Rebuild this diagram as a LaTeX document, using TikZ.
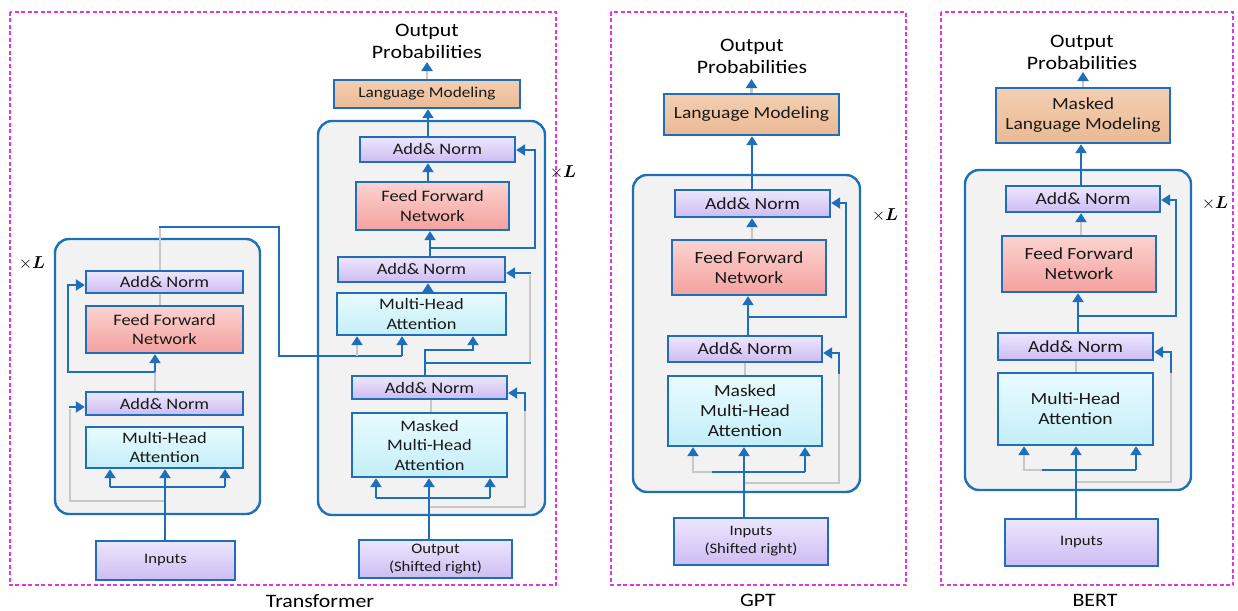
\documentclass[tikz,border=0pt]{standalone}
\usepackage{fontspec}
\usepackage{amsmath}
\setmainfont{Carlito}[FakeStretch=1.15]
\usetikzlibrary{arrows.meta}
\definecolor{bblue}{RGB}{30,110,185}
\definecolor{lavT}{RGB}{238,230,253}
\definecolor{lavB}{RGB}{205,188,242}
\definecolor{pinkT}{RGB}{251,211,208}
\definecolor{pinkB}{RGB}{244,161,158}
\definecolor{cyanT}{RGB}{232,251,254}
\definecolor{cyanB}{RGB}{196,238,248}
\definecolor{oraT}{RGB}{243,207,177}
\definecolor{oraB}{RGB}{235,185,148}
\definecolor{panelg}{RGB}{242,242,242}
\definecolor{greyl}{RGB}{200,200,200}
\definecolor{magf}{RGB}{230,50,230}
\begin{document}
\begin{tikzpicture}[x=1pt,y=-1pt,
  blk/.style={draw=bblue, line width=2.4pt, inner sep=0pt, align=center, text=black!90, font=\fontsize{16}{19.5}\selectfont},
  big/.style={font=\fontsize{17}{20}\selectfont},
  anorm/.style={blk, top color=lavT, bottom color=lavB},
  ffn/.style={blk, top color=pinkT, bottom color=pinkB},
  mha/.style={blk, top color=cyanT, bottom color=cyanB},
  lmb/.style={blk, top color=oraT, bottom color=oraB},
  inb/.style={blk, top color=lavT, bottom color=lavB, font=\fontsize{14.5}{18}\selectfont},
  stack/.style={draw=bblue, line width=2.4pt, fill=panelg, rounded corners=14pt, inner sep=0pt},
  frame/.style={draw=magf, line width=2.4pt, dash pattern=on 4pt off 2.5pt},
  arr/.style={draw=bblue, line width=2.6pt, -{Triangle[length=9pt,width=11pt]}},
  ln/.style={draw=bblue, line width=2.6pt},
  gln/.style={draw=greyl, line width=2.2pt},
  garr/.style={draw=greyl, line width=2.2pt, -{Triangle[length=9pt,width=11pt,color=bblue]}},
  lbl/.style={font=\fontsize{19}{22}\selectfont, align=center, inner sep=0pt},
  mult/.style={font=\fontsize{16}{18}\selectfont, inner sep=0pt}]
\useasboundingbox (0,0) rectangle (1238,610);

% ================= Transformer =================
\draw[frame] (10,12) rectangle (556,585);
\node[lbl] (tlab) at (320,601) {Transformer};

% Encoder
\node[stack, minimum width=205, minimum height=275] (est) at (157.5,376.5) {};
\node[mult] (exl) at (32,263) {$\times\boldsymbol{L}$};
\node[anorm, minimum width=157, minimum height=22] (ean1) at (164.5,282) {Add\& Norm};
\node[ffn, minimum width=157, minimum height=47] (effn) at (164.5,329.5) {Feed Forward\\Network};
\node[anorm, minimum width=157, minimum height=23] (ean2) at (164.5,403.5) {Add\& Norm};
\node[mha, minimum width=157, minimum height=41] (emha) at (164.5,447.5) {Multi-Head\\Attention};
\node[inb, minimum width=139, minimum height=39] (einp) at (165.5,560.5) {Inputs};

% Decoder
\node[stack, minimum width=227, minimum height=394] (dst) at (431.5,318) {};
\node[mult] (dxl) at (563,172) {$\times\boldsymbol{L}$};
\node[lbl] (dop) at (427,41) {Output\\Probabilities};
\coordinate (dout) at (427,62);
\node[lmb, font=\fontsize{15}{18}\selectfont, minimum width=186, minimum height=28] (dlm) at (427,94) {Language Modeling};
\node[anorm, minimum width=155, minimum height=25] (dan1) at (437.5,149.5) {Add\& Norm};
\node[ffn, minimum width=153, minimum height=48] (dffn) at (432.5,206) {Feed Forward\\Network};
\node[anorm, minimum width=167, minimum height=25] (dan2) at (421.5,269.5) {Add\& Norm};
\node[mha, minimum width=169, minimum height=42] (dmha) at (421.5,314) {Multi-Head\\Attention};
\node[anorm, minimum width=155, minimum height=23] (dman) at (429.5,387.5) {Add\& Norm};
\node[mha, minimum width=155, minimum height=64] (dmmha) at (429.5,445) {Masked\\Multi-Head\\Attention};
\node[inb, minimum width=153, minimum height=38] (dinp) at (435.5,559) {Output\\(Shifted right)};

% encoder connectors
\draw[gln] (165,501) -- (70,501) -- (70,409);
\draw[arr] (69,407) -- (ean2.west |- 0,407);
\draw[gln] (ean2.north -| 155,0) -- (155,372);
\draw[arr] (155,372) -- (effn.south -| 155,0);
\draw[arr] (155,372) -- (68,372) -- (68,285) -- (ean1.west |- 0,285);
\draw[gln] (effn.north -| 160,0) -- (ean1.south -| 160,0);
\draw[gln] (ean1.north -| 160,0) -- (160,227);
\draw[arr] (einp.north -| 165,0) -- (emha.south -| 165,0);
\draw[ln] (110,487) -- (225,487);
\draw[arr] (110,487) -- (emha.south -| 110,0);
\draw[arr] (225,487) -- (emha.south -| 225,0);
\draw[ln] (159,227) -- (279,227) -- (279,356) -- (402,356);
\draw[arr] (402,356) -- (dmha.south -| 402,0);
\draw[garr] (357,356) -- (dmha.south -| 357,0);

% decoder connectors
\draw[garr] (dlm.north) -- (dout);
\draw[arr] (dan1.north -| 428,0) -- (dlm.south -| 428,0);
\draw[arr] (dffn.north -| 428,0) -- (dan1.south -| 428,0);
\draw[arr] (dan2.north -| 430,0) -- (dffn.south -| 430,0);
\draw[arr] (430,248) -- (535,248) -- (535,150) -- (dan1.east |- 0,150);
\draw[arr] (dmha.north -| 428,0) -- (dan2.south -| 428,0);
\draw[gln] (dmmha.north -| 431,0) -- (dman.south -| 431,0);
\draw[gln] (429,507) -- (525,507) -- (525,410);
\draw[gln] (530,363) -- (530,275);
\draw[ln] (425,363) -- (531,363);
\draw[arr] (531,273) -- (dan2.east |- 0,273);
\draw[arr] (dman.north -| 425,0) -- (425,350) -- (473,350) -- (dmha.south -| 473,0);
\draw[arr] (525,411) -- (525,393) -- (dman.east |- 0,393);
\draw[arr] (dinp.north -| 429,0) -- (dmmha.south -| 429,0);
\draw[ln] (376,498) -- (490,498);
\draw[arr] (376,498) -- (dmmha.south -| 376,0);
\draw[arr] (490,498) -- (dmmha.south -| 490,0);

% ================= GPT =================
\draw[frame] (611,12) rectangle (906,585);
\node[lbl] (glab) at (758,600) {GPT};
\node[lbl] (gop) at (752,56) {Output\\Probabilities};
\coordinate (gout) at (751.5,79);
\node[lmb, big, minimum width=175, minimum height=41] (glm) at (751.5,114.5) {Language Modeling};
\node[stack, minimum width=227, minimum height=317] (gst) at (746.5,333.5) {};
\node[mult] (gxl) at (885,215) {$\times\boldsymbol{L}$};
\node[anorm, big, minimum width=155, minimum height=27] (gan1) at (752.5,203.5) {Add\& Norm};
\node[ffn, big, minimum width=154, minimum height=55] (gffn) at (749,267.5) {Feed Forward\\Network};
\node[anorm, big, minimum width=154, minimum height=26] (gan2) at (745,349) {Add\& Norm};
\node[mha, big, minimum width=154, minimum height=70] (gmmha) at (745,411) {Masked\\Multi-Head\\Attention};
\node[inb, minimum width=154, minimum height=47] (ginp) at (751,541.5) {Inputs\\(Shifted right)};

\draw[garr] (glm.north) -- (gout);
\draw[arr] (gan1.north -| 752,0) -- (glm.south -| 752,0);
\draw[garr] (gffn.north -| 752,0) -- (gan1.south -| 752,0);
\draw[arr] (gan2.north -| 748,0) -- (gffn.south -| 748,0);
\draw[arr] (748,317) -- (846,317) -- (846,203) -- (gan1.east |- 0,203);
\draw[gln] (gmmha.north -| 745,0) -- (gan2.south -| 745,0);
\draw[gln] (744,483) -- (839,483) -- (839,373);
\draw[arr] (839,374) -- (839,353) -- (gan2.east |- 0,353);
\draw[arr] (ginp.north -| 744,0) -- (gmmha.south -| 744,0);
\draw[gln] (693,472) -- (712,472);
\draw[ln] (712,472) -- (805,472);
\draw[garr] (693,473) -- (gmmha.south -| 693,0);
\draw[arr] (805,472) -- (gmmha.south -| 805,0);

% ================= BERT =================
\draw[frame] (941,12) rectangle (1233,585);
\node[lbl] (blab) at (1095,600) {BERT};
\node[lbl] (bop) at (1082,52) {Output\\Probabilities};
\coordinate (bout) at (1083,72);
\node[lmb, big, minimum width=174, minimum height=55] (blm) at (1083,115.5) {Masked\\Language Modeling};
\node[stack, minimum width=226, minimum height=320] (bst) at (1078,330) {};
\node[mult] (bxl) at (1215,203) {$\times\boldsymbol{L}$};
\node[anorm, big, minimum width=154, minimum height=26] (ban1) at (1083,199) {Add\& Norm};
\node[ffn, big, minimum width=154, minimum height=56] (bffn) at (1079,264) {Feed Forward\\Network};
\node[anorm, big, minimum width=155, minimum height=27] (ban2) at (1075.5,346.5) {Add\& Norm};
\node[mha, big, minimum width=155, minimum height=72] (bmha) at (1075.5,409) {Multi-Head\\Attention};
\node[inb, minimum width=153, minimum height=47] (binp) at (1081.5,542.5) {Inputs};

\draw[garr] (blm.north) -- (bout);
\draw[arr] (ban1.north -| 1081,0) -- (blm.south -| 1081,0);
\draw[garr] (bffn.north -| 1081,0) -- (ban1.south -| 1081,0);
\draw[arr] (ban2.north -| 1078,0) -- (bffn.south -| 1078,0);
\draw[arr] (1078,316) -- (1176,316) -- (1176,200) -- (ban1.east |- 0,200);
\draw[gln] (bmha.north -| 1076,0) -- (ban2.south -| 1076,0);
\draw[gln] (1076,482) -- (1171,482) -- (1171,372);
\draw[arr] (1171,373) -- (1171,352) -- (ban2.east |- 0,352);
\draw[arr] (binp.north -| 1076,0) -- (bmha.south -| 1076,0);
\draw[gln] (1024,470) -- (1042,470);
\draw[ln] (1042,470) -- (1136,470);
\draw[garr] (1024,471) -- (bmha.south -| 1024,0);
\draw[arr] (1136,470) -- (bmha.south -| 1136,0);
\end{tikzpicture}
\end{document}
